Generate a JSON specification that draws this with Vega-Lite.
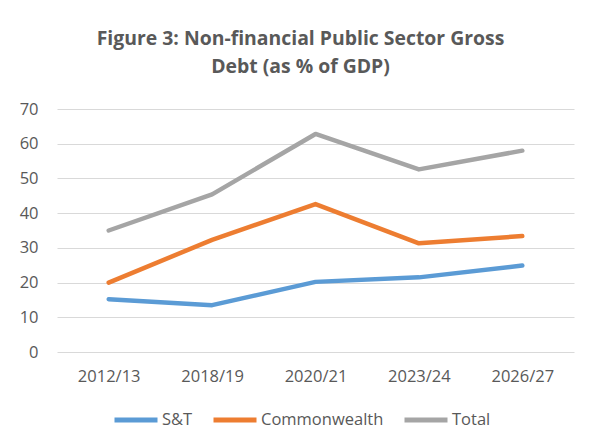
{
  "$schema": "https://vega.github.io/schema/vega-lite/v6.json",
  "autosize": "none",
  "width": 517,
  "height": 243,
  "padding": {"left": 57, "top": 109, "right": 16, "bottom": 95},
  "background": "white",
  "title": {
    "text": ["Figure 3: Non-financial Public Sector Gross", "Debt (as % of GDP)"],
    "font": "Open Sans",
    "fontSize": 19.4,
    "fontWeight": "bold",
    "color": "#595959",
    "anchor": "middle",
    "dx": -15,
    "lineHeight": 28,
    "offset": 24
  },
  "data": {
    "values": [
      {"year": "2012/13", "series": "S&T", "value": 15.2},
      {"year": "2018/19", "series": "S&T", "value": 13.5},
      {"year": "2020/21", "series": "S&T", "value": 20.2},
      {"year": "2023/24", "series": "S&T", "value": 21.5},
      {"year": "2026/27", "series": "S&T", "value": 24.9},
      {"year": "2012/13", "series": "Commonwealth", "value": 20.0},
      {"year": "2018/19", "series": "Commonwealth", "value": 32.3},
      {"year": "2020/21", "series": "Commonwealth", "value": 42.6},
      {"year": "2023/24", "series": "Commonwealth", "value": 31.3},
      {"year": "2026/27", "series": "Commonwealth", "value": 33.4},
      {"year": "2012/13", "series": "Total", "value": 35.0},
      {"year": "2018/19", "series": "Total", "value": 45.4},
      {"year": "2020/21", "series": "Total", "value": 62.8},
      {"year": "2023/24", "series": "Total", "value": 52.6},
      {"year": "2026/27", "series": "Total", "value": 58.0}
    ]
  },
  "mark": {"type": "line", "strokeWidth": 4.5, "strokeCap": "round", "strokeJoin": "round"},
  "encoding": {
    "x": {
      "field": "year",
      "type": "ordinal",
      "sort": null,
      "scale": {"type": "point", "padding": 0.5},
      "axis": {
        "title": null,
        "labelAngle": 0,
        "domain": false,
        "ticks": false,
        "labelPadding": 16,
        "labelFont": "Open Sans",
        "labelFontSize": 16.5,
        "labelColor": "#595959"
      }
    },
    "y": {
      "field": "value",
      "type": "quantitative",
      "scale": {"domain": [0, 70], "nice": false},
      "axis": {
        "title": null,
        "values": [0, 10, 20, 30, 40, 50, 60, 70],
        "domain": false,
        "ticks": false,
        "labelPadding": 19,
        "labelFont": "Open Sans",
        "labelFontSize": 16.5,
        "labelColor": "#595959",
        "gridColor": "#d9d9d9",
        "gridWidth": 1
      }
    },
    "color": {
      "field": "series",
      "type": "nominal",
      "scale": {"domain": ["S&T", "Commonwealth", "Total"], "range": ["#5B9BD5", "#ED7D31", "#A5A5A5"]},
      "legend": {
        "title": null,
        "orient": "none",
        "direction": "horizontal",
        "legendX": 55,
        "legendY": 287,
        "symbolType": "stroke",
        "symbolSize": 1849,
        "symbolStrokeWidth": 5,
        "labelOffset": 2,
        "columnPadding": 10,
        "labelFont": "Open Sans",
        "labelFontSize": 16.5,
        "labelColor": "#595959"
      }
    }
  },
  "config": {"view": {"stroke": null}}
}
